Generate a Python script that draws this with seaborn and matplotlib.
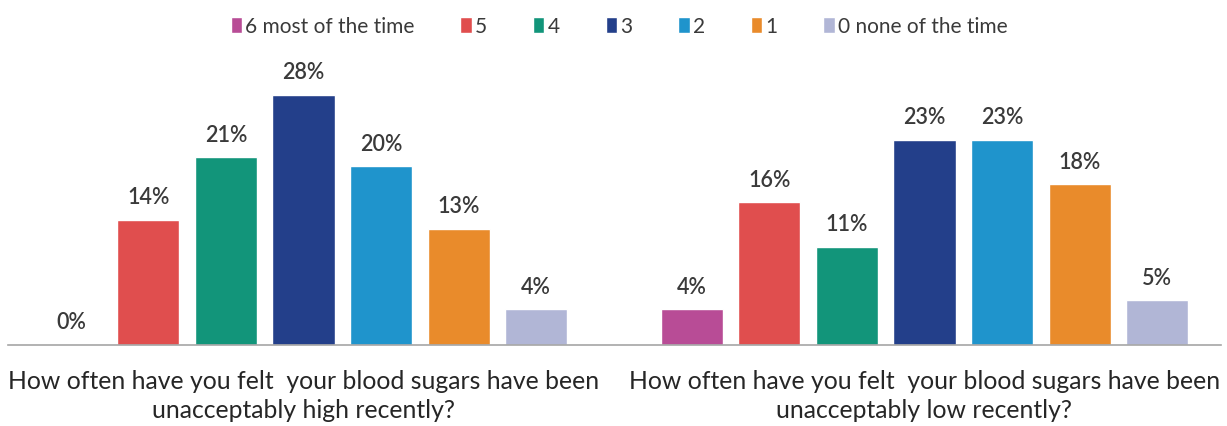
import matplotlib
matplotlib.use("Agg")
import matplotlib.pyplot as plt
import seaborn as sns
import pandas as pd

questions = ["How often have you felt  your blood sugars have been\nunacceptably high recently?",
             "How often have you felt  your blood sugars have been\nunacceptably low recently?"]
responses = ["6 most of the time", "5", "4", "3", "2", "1", "0 none of the time"]
high_vals = [0, 14, 21, 28, 20, 13, 4]
low_vals = [4, 16, 11, 23, 23, 18, 5]
colors = ["#B84C96", "#E04E4E", "#12957A", "#233F8A", "#1F94CC", "#E98B2B", "#B1B6D6"]

rows = []
for r, v in zip(responses, high_vals):
    rows.append({"question": questions[0], "response": r, "pct": v})
for r, v in zip(responses, low_vals):
    rows.append({"question": questions[1], "response": r, "pct": v})
df = pd.DataFrame(rows)

sns.set_style("white")
plt.rcParams['font.family'] = ['Lato', 'DejaVu Sans']

fig = plt.figure(figsize=(12.27, 4.27), dpi=100)
W, H = 1227, 427
left, right = 8, 1221
bottom, top = 346, 55
ax = fig.add_axes([left / W, 1 - bottom / H, (right - left) / W, (bottom - top) / H])

sns.barplot(data=df, x="question", y="pct", hue="response", hue_order=responses,
            palette=colors, width=0.874, gap=0.2, ax=ax, saturation=1, legend=True)

for cont in ax.containers:
    ax.bar_label(cont, labels=[f"{v:.0f}%" for v in cont.datavalues],
                 padding=9, fontsize=15.5, color="#3A3A3A", fontweight="semibold")

ax.set_xlim((left - 303.5) / 621, (right - 303.5) / 621)
ax.set_ylim(0, (bottom - top) / 8.93)
ax.set_xlabel("")
ax.set_ylabel("")
ax.set_yticks([])
for s in ["top", "right", "left"]:
    ax.spines[s].set_visible(False)
ax.spines["bottom"].set_color("#A6A6A6")
ax.spines["bottom"].set_linewidth(1.2)
ax.tick_params(axis="x", length=0, pad=17, labelsize=17.8, labelcolor="#262626")
for t in ax.get_xticklabels():
    t.set_linespacing(1.35)

handles, labels = ax.get_legend_handles_labels()
ax.legend(handles, labels, loc="center", bbox_to_anchor=(619 / W, 1 - 27 / H),
          bbox_transform=fig.transFigure, ncol=7, frameon=False, fontsize=15,
          handlelength=0.55, handleheight=0.8, handletextpad=0.15, columnspacing=2.2,
          labelcolor="#3A3A3A")

fig.savefig("out.png", dpi=100)
